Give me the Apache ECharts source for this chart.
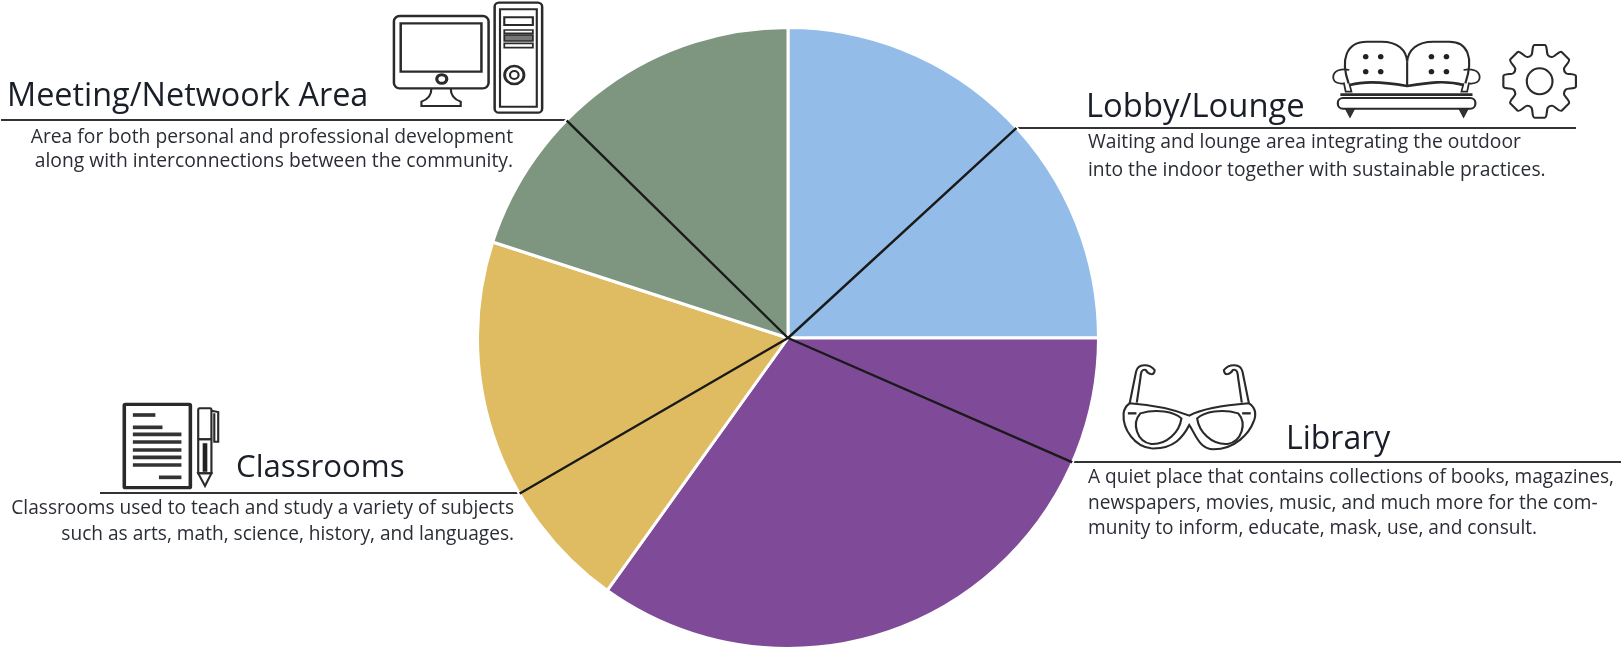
<!DOCTYPE html>
<html><head><meta charset="utf-8">
<style>html,body{margin:0;padding:0;background:#fff}#c{width:1621px;height:649px}</style>
<script src="https://cdn.jsdelivr.net/npm/echarts@6/dist/echarts.min.js"></script>
</head><body><div id="c"></div>
<script>
var categories = ['Lobby/Lounge','Library','Classrooms','Meeting/Netwoork Area'];
var sliceDegrees = [90, 125.6, 72.4, 72];
var leaderDegrees = [47.4, 113.6, 239.9, 314.5];
var sliceColors = ['#93BDE8','#7F4A98','#DFBC62','#7E9580'];
var descriptions = [
 ['Waiting and lounge area integrating the outdoor','into the indoor together with sustainable practices.'],
 ['A quiet place that contains collections of books, magazines,','newspapers, movies, music, and much more for the com-','munity to inform, educate, mask, use, and consult.'],
 ['Classrooms used to teach and study a variety of subjects','such as arts, math, science, history, and languages.'],
 ['Area for both personal and professional development','along with interconnections between the community.']
];
var FONT='"Open Sans"', INK='#1a1e28', BODY='#2a2d35';
var g=[];
function title(t,x,y,size){g.push({type:'text',x:x,y:y-0.3*size,style:{text:t,font:size+'px '+FONT,fill:INK,verticalAlign:'middle',align:'left'}});}
function body(lines,x,ys,align,size){lines.forEach(function(t,i){g.push({type:'text',x:x,y:ys[i]-0.3*size,style:{text:t,font:size+'px '+FONT,fill:BODY,align:align,verticalAlign:'middle'}});});}
function rule(x1,x2,y){g.push({type:'line',shape:{x1:x1,y1:y,x2:x2,y2:y},style:{stroke:'#333',lineWidth:2}});}
title(categories[3],7,106,32.4);body(descriptions[3],513,[143,167],'right',19.3);rule(1,567,120);
title(categories[0],1086,117,32.8);body(descriptions[0],1088,[148,176],'left',19.25);rule(1016,1576,128);
title(categories[1],1286,449,32);body(descriptions[1],1088,[483,509,534],'left',19.1);rule(1071,1621,462);
title(categories[2],236,477,31.2);body(descriptions[2],514,[514,540],'right',19.1);rule(100,520,493);

var icons=[];
function icon(ox,oy,children){icons.push({type:'group',x:ox,y:oy,scaleX:1/2.8,scaleY:1/3,children:children});}
function P(d,lw,fill,stroke){return {type:'path',shape:{pathData:d},style:{fill:fill||'none',stroke:stroke===undefined?'#2a2a2a':stroke,lineWidth:lw||6}};}
function R(x,y,w,h,r,lw,fill,stroke){return {type:'rect',shape:{x:x,y:y,width:w,height:h,r:r||0},style:{fill:fill||'none',stroke:stroke===undefined?'#2a2a2a':stroke,lineWidth:lw||6}};}
function E(cx,cy,rx,ry,lw,fill,stroke){return {type:'ellipse',shape:{cx:cx,cy:cy,rx:rx,ry:ry},style:{fill:fill||'none',stroke:stroke===undefined?'#2a2a2a':stroke,lineWidth:lw||6}};}
// computer
icon(0,0,[
 R(1103,48,265,217,16,7),R(1122,70,226,145,0,7),E(1237,237,14,13,9),
 P('M1208,265 C1208,290 1195,300 1180,305 L1180,318 L1290,318 L1290,305 C1275,300 1262,290 1262,265',6),
 R(1385,8,133,330,12,7),R(1400,28,103,292,0,6),
 R(1412,52,80,23,0,6),R(1412,90,80,10,0,5),R(1412,105,80,18,0,5,'#777'),R(1412,130,80,13,0,5),
 E(1440,225,27,27,8),E(1440,225,12,12,6)
]);
// sofa and gear
var sofa=[
 P('M808,190 C785,120 800,65 860,65 L900,65 C945,65 970,90 972,125 C975,90 1000,65 1045,65 L1090,65 C1140,65 1160,110 1135,190',6),
 P('M972,125 L972,195',6),
 P('M810,150 C790,145 765,150 765,172 C765,190 785,192 795,190 L800,215 L816,215 L810,190',5),
 P('M1130,150 C1150,145 1175,150 1175,172 C1175,190 1155,192 1145,190 L1140,215 L1124,215 L1130,190',5),
 P('M812,195 C860,180 920,188 972,198 C1030,188 1080,180 1130,195',8),
 P('M785,224 L1155,224',8),
 R(778,234,385,32,14,6),
 P('M800,268 L824,268 L812,292 Z',3,'#333'),P('M1118,268 L1142,268 L1130,292 Z',3,'#333')
];
[[856,110],[898,110],[856,155],[898,155],[1040,110],[1082,110],[1040,155],[1082,155]].forEach(function(p){sofa.push(E(p[0],p[1],8,8,0,'#222','none'));});
var teeth=8,gd=[],cx=1343,cy=184,s=2*Math.PI/teeth;
function pt(a,r){return (cx+r*Math.cos(a)*2.8/3).toFixed(1)+','+(cy+r*Math.sin(a)).toFixed(1);}
for(var i=0;i<teeth;i++){
 var a=-Math.PI/2+i*s;
 gd.push((i===0?'M':'L')+pt(a-s*.18,110)+' L'+pt(a+s*.18,110)+' C'+pt(a+s*.28,110)+' '+pt(a+s*.30,84)+' '+pt(a+s*.40,82)+' C'+pt(a+s*.46,80)+' '+pt(a+s*.54,80)+' '+pt(a+s*.60,82)+' C'+pt(a+s*.70,84)+' '+pt(a+s*.72,110)+' '+pt(a+s*.82,110));
}
sofa.push(P(gd.join(' ')+' Z',6));
sofa.push(E(cx,cy,36,39,6));
icon(1060,20,sofa);
// glasses
function mirror(d){return d.replace(/(-?\d+(?:\.\d+)?),(-?\d+(?:\.\d+)?)/g,function(m,x,y){return (724-parseFloat(x))+','+y;});}
var frame='M195,160 C260,165 310,175 362,197 C400,175 470,165 529,160 C545,170 552,190 542,215 C530,250 490,298 430,298 C390,298 378,250 362,225 C345,260 320,298 255,295 C210,290 175,240 178,190 C180,175 188,165 195,160 Z';
var lensL='M225,190 C270,175 320,185 340,205 C335,245 300,285 255,282 C215,275 200,220 225,190 Z';
var templeL='M195,160 L213,65 C218,40 250,40 265,60 C265,78 248,75 240,60 C228,55 226,70 225,85 L215,158';
icon(1060,350,[P(frame,6),P(lensL,6),P(mirror(lensL),6),P(templeL,6),P(mirror(templeL),6),
 P('M190,190 L214,190',7),P('M510,190 L534,190',7)]);
// document and pen
var doc=[R(348,73,185,250,3,10)];
[[372,435,105],[372,455,142],[372,508,163],[372,508,186],[372,508,210],[372,508,232],[372,508,255],[445,508,292]].forEach(function(l){doc.push(P('M'+l[0]+','+l[2]+' L'+l[1]+','+l[2],11,'none','#333'));});
doc.push(R(555,85,37,93,4,6),P('M592,92 L611,96 L611,185 L600,185 L600,100',6),R(555,178,37,102,0,6),R(568,190,12,85,0,1,'#222'),P('M555,280 L592,280 L574,318 Z',6));
icon(0,380,doc);

var chart=echarts.init(document.getElementById('c'),null,{renderer:'canvas'});
var CENTER=[788,338],RADIUS=310.5;
var leaderData=[];
leaderDegrees.forEach(function(d){leaderData.push([1,d],[0,d]);});
chart.setOption({
 animation:false,
 backgroundColor:'#fff',
 polar:{center:CENTER,radius:RADIUS},
 angleAxis:{type:'value',min:0,max:360,startAngle:90,clockwise:true,show:false},
 radiusAxis:{type:'value',min:0,max:1,show:false},
 series:[
  {type:'pie',center:CENTER,radius:[0,RADIUS],startAngle:90,clockwise:true,silent:true,z:1,
   label:{show:false},labelLine:{show:false},
   itemStyle:{borderColor:'#fff',borderWidth:3},
   data:categories.map(function(n,i){return {name:n,value:sliceDegrees[i],itemStyle:{color:sliceColors[i]}};})},
  {type:'line',coordinateSystem:'polar',data:leaderData,showSymbol:false,silent:true,z:3,
   lineStyle:{color:'#1a1a1a',width:2.4}},
  {type:'custom',coordinateSystem:'none',data:[0],silent:true,z:4,clip:false,
   renderItem:function(){return {type:'group',children:icons};}}
 ],
 graphic:{elements:g}
});
</script></body></html>
